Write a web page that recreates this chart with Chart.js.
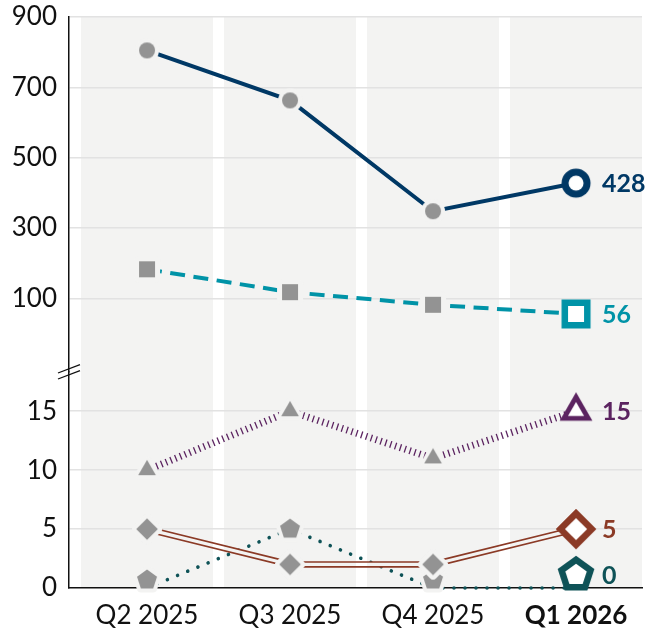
<!DOCTYPE html>
<html>
<head>
<meta charset="utf-8">
<script src="https://cdn.jsdelivr.net/npm/chart.js@4.4.1/dist/chart.umd.min.js"></script>
<style>
  html, body { margin: 0; padding: 0; background: #fff; }
  #wrap { width: 650px; height: 634px; }
</style>
</head>
<body>
<div id="wrap"><canvas id="chart" width="650" height="634"></canvas></div>
<script>
const quarters = ['Q2 2025', 'Q3 2025', 'Q4 2025', 'Q1 2026'];
const seriesA = [805, 663, 348, 428];
const seriesB = [183, 118, 82, 56];
const seriesC = [10, 15, 11, 15];
const seriesD = [5, 2, 2, 5];
const seriesE = [0, 5, 0, 0];
const topTicks = [100, 300, 500, 700, 900];
const bottomTicks = [0, 5, 10, 15];

const BAND = '#f3f3f2';
const GRID = '#e2e2e2';
const GREY = '#939393';
const INK = '#111111';
const BAND_HALF = 66;

// marker pictures: grey with a halo for history, hollow and bigger for the latest quarter
function shapePath(ctx, shape, r) {
  ctx.beginPath();
  if (shape === 'circle') {
    ctx.arc(0, 0, r, 0, Math.PI * 2);
  } else if (shape === 'square') {
    ctx.rect(-r, -r, 2 * r, 2 * r);
  } else if (shape === 'diamond') {
    ctx.moveTo(0, -r); ctx.lineTo(r, 0); ctx.lineTo(0, r); ctx.lineTo(-r, 0); ctx.closePath();
  } else {
    const n = shape === 'triangle' ? 3 : 5;
    for (let i = 0; i < n; i++) {
      const a = -Math.PI / 2 + i * 2 * Math.PI / n;
      ctx.lineTo(r * Math.cos(a), r * Math.sin(a));
    }
    ctx.closePath();
  }
}

function inset(shape, r, t) {
  if (shape === 'triangle') return r - 2 * t;
  if (shape === 'pentagon') return r - t / Math.cos(Math.PI / 5);
  if (shape === 'diamond') return r - t * Math.SQRT2;
  return r - t;
}

function makeCanvas(ext, lift) {
  const c = document.createElement('canvas');
  const half = Math.ceil(ext + lift) + 2;
  c.width = half * 2;
  c.height = half * 2;
  const ctx = c.getContext('2d');
  ctx.translate(half, half - lift);
  return [c, ctx];
}

function greyMarker(shape, r, gap, lift) {
  const [c, ctx] = makeCanvas(r * 2 + gap, lift);
  shapePath(ctx, shape, r);
  ctx.fillStyle = BAND;
  ctx.strokeStyle = BAND;
  ctx.lineWidth = gap * 2;
  ctx.lineJoin = 'round';
  ctx.fill();
  ctx.stroke();
  shapePath(ctx, shape, r);
  ctx.fillStyle = GREY;
  ctx.fill();
  return c;
}

function hollowMarker(shape, r, t, color, lift) {
  const [c, ctx] = makeCanvas(r * 2, lift);
  shapePath(ctx, shape, r);
  ctx.fillStyle = color;
  ctx.fill();
  shapePath(ctx, shape, inset(shape, r, t));
  ctx.fillStyle = '#ffffff';
  ctx.fill();
  return c;
}

const lines = [
  { values: seriesA, axis: 'yTop', color: '#003865', width: 4, dash: [], shape: 'circle', r: 8, gap: 4, R: 14.5, t: 7 },
  { values: seriesB, axis: 'yTop', color: '#0093a7', width: 4, dash: [15, 8.5], shape: 'square', r: 8, gap: 5, R: 14.5, t: 6.5 },
  { values: seriesC, axis: 'yBot', color: '#5b2360', width: 7, dash: [1.3, 3.8], shape: 'triangle', r: 10.2, gap: 3.5, R: 18.9, t: 4.8 },
  { values: seriesD, axis: 'yBot', color: '#8b3a26', width: 6.6, dash: [], shape: 'diamond', r: 10.8, gap: 4, R: 20, t: 6.3, doubleGap: 3.2 },
  { values: seriesE, axis: 'yBot', color: '#0e5257', width: 3.6, dash: [0.01, 11], cap: 'round', shape: 'pentagon', r: 10.5, gap: 4, R: 19.3, t: 6.5 },
];

// markers sitting on zero are lifted so they rest on the axis
function liftFor(l, v, last) {
  if (l.axis !== 'yBot' || v !== 0) return 0;
  return last ? 13 : 8;
}

const datasets = lines.map((l) => {
  const n = l.values.length;
  const pics = l.values.map((v, i) => {
    const last = i === n - 1;
    const lift = liftFor(l, v, last);
    return last ? hollowMarker(l.shape, l.R, l.t, l.color, lift) : greyMarker(l.shape, l.r, l.gap, lift);
  });
  return {
    data: l.values.map((v, i) => ({ x: i, y: v })),
    yAxisID: l.axis,
    borderColor: l.color,
    borderWidth: l.width,
    borderDash: l.dash,
    borderCapStyle: l.cap || 'butt',
    tension: 0,
    clip: false,
    pointRadius: 9,
    pointStyle: (ctx) => pics[ctx.dataIndex],
    doubleGap: l.doubleGap || 0,
  };
});

function bandGradient(chart) {
  const a = chart.chartArea;
  const xs = chart.scales.x;
  const w = a.right - a.left;
  const g = chart.ctx.createLinearGradient(a.left, 0, a.right, 0);
  const clamp = (v) => Math.min(1, Math.max(0, v));
  quarters.forEach((q, i) => {
    const c = xs.getPixelForValue(i);
    const s = clamp((c - BAND_HALF - a.left) / w);
    const e = clamp((c + BAND_HALF - a.left) / w);
    g.addColorStop(s, '#ffffff');
    g.addColorStop(s, BAND);
    g.addColorStop(e, BAND);
    g.addColorStop(e, '#ffffff');
  });
  return g;
}

const bands = {
  id: 'bands',
  beforeDraw(chart) {
    const { ctx, chartArea: a } = chart;
    const xs = chart.scales.x;
    ctx.save();
    ctx.fillStyle = BAND;
    quarters.forEach((q, i) => {
      const c = xs.getPixelForValue(i);
      ctx.fillRect(c - BAND_HALF, a.top, BAND_HALF * 2, a.bottom - a.top);
    });
    ctx.restore();
  },
};

const doubleLine = {
  id: 'doubleLine',
  afterDatasetDraw(chart, args) {
    const ds = chart.data.datasets[args.index];
    if (!ds.doubleGap) return;
    const ctx = chart.ctx;
    const pts = args.meta.data;
    ctx.save();
    ctx.beginPath();
    pts.forEach((p, i) => (i ? ctx.lineTo(p.x, p.y) : ctx.moveTo(p.x, p.y)));
    ctx.lineWidth = ds.doubleGap;
    ctx.strokeStyle = bandGradient(chart);
    ctx.stroke();
    pts.forEach((p) => p.draw(ctx, chart.chartArea));
    ctx.restore();
  },
};

const endLabels = {
  id: 'endLabels',
  afterDatasetsDraw(chart) {
    const ctx = chart.ctx;
    ctx.save();
    ctx.font = 'bold 25px Lato';
    ctx.textAlign = 'left';
    ctx.textBaseline = 'middle';
    lines.forEach((l, i) => {
      const last = l.values.length - 1;
      const p = chart.getDatasetMeta(i).data[last];
      ctx.fillStyle = l.color;
      ctx.fillText(String(l.values[last]), p.x + 26, p.y - liftFor(l, l.values[last], true) + 1);
    });
    ctx.restore();
  },
};

const axisBreak = {
  id: 'axisBreak',
  afterDraw(chart) {
    const ctx = chart.ctx;
    const b = chart.scales.yTop.bottom;
    const x = chart.chartArea.left;
    ctx.save();
    ctx.strokeStyle = INK;
    ctx.lineWidth = 1.3;
    [-3, 3].forEach((d) => {
      ctx.beginPath();
      ctx.moveTo(x - 11, b + d + 4);
      ctx.lineTo(x + 11, b + d - 4.3);
      ctx.stroke();
    });
    ctx.restore();
  },
};

function noPad(s) {
  s.paddingTop = 0;
  s.paddingBottom = 0;
  s.paddingLeft = 0;
  s.paddingRight = 0;
}

function build() {
  Chart.defaults.font.family = 'Lato, "Noto Sans", sans-serif';
  new Chart(document.getElementById('chart'), {
    type: 'line',
    data: { datasets },
    plugins: [bands, doubleLine, endLabels, axisBreak],
    options: {
      responsive: false,
      animation: false,
      devicePixelRatio: 1,
      layout: { autoPadding: false, padding: { left: 13, right: 8, top: 17, bottom: 6 } },
      plugins: { legend: { display: false }, tooltip: { enabled: false } },
      scales: {
        x: {
          type: 'linear',
          min: -0.5455,
          max: 3.4615,
          afterBuildTicks: (s) => { s.ticks = quarters.map((q, i) => ({ value: i })); },
          afterFit: (s) => { s.height = 40; noPad(s); },
          grid: { display: false, drawTicks: false },
          border: { color: INK, width: 1.5 },
          ticks: {
            callback: (v) => quarters[v],
            padding: 12,
            maxRotation: 0,
            autoSkip: false,
            color: INK,
            font: (ctx) => ({ size: 26, weight: ctx.index === quarters.length - 1 ? 'bold' : 'normal' }),
          },
        },
        yBot: {
          type: 'linear',
          position: 'left',
          stack: 'y',
          stackWeight: 216,
          weight: 1,
          min: 0,
          max: 18.33,
          afterBuildTicks: (s) => { s.ticks = bottomTicks.map((v) => ({ value: v })); },
          afterFit: (s) => { s.width = 56; noPad(s); },
          grid: { color: (ctx) => (ctx.tick && ctx.tick.value === 0 ? 'rgba(0,0,0,0)' : GRID), lineWidth: 1.5, drawTicks: false },
          border: { color: INK, width: 1.5 },
          ticks: { padding: 12, color: INK, font: { size: 26 } },
        },
        yTop: {
          type: 'linear',
          position: 'left',
          stack: 'y',
          stackWeight: 355,
          weight: 2,
          min: -109,
          max: 900,
          afterBuildTicks: (s) => { s.ticks = topTicks.map((v) => ({ value: v })); },
          afterFit: (s) => { s.width = 56; noPad(s); },
          grid: { color: GRID, lineWidth: 1.5, drawTicks: false },
          border: { color: INK, width: 1.5 },
          ticks: { padding: 12, color: INK, font: { size: 26 } },
        },
      },
    },
  });
}

Promise.all([
  document.fonts.load('25px Lato'),
  document.fonts.load('bold 25px Lato'),
]).then(build, build);
</script>
</body>
</html>
